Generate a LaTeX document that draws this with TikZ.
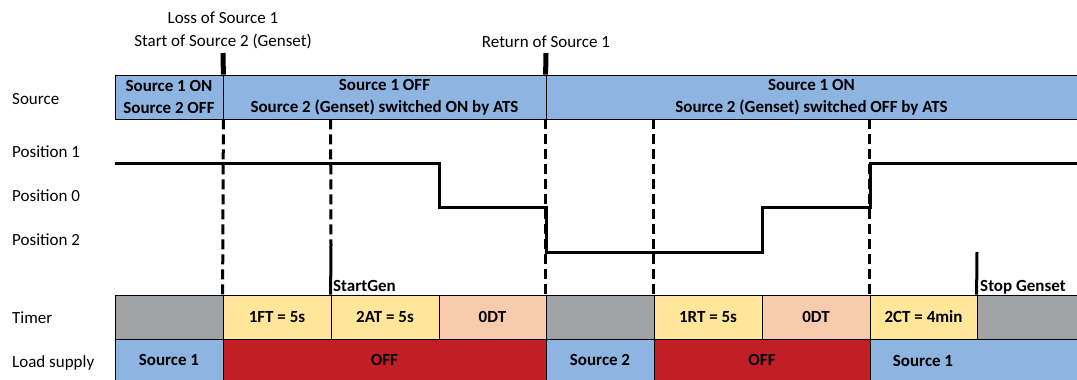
\documentclass[tikz,border=0pt]{standalone}
\usepackage{fontspec}
\setmainfont{Carlito}
\definecolor{srcblue}{RGB}{142,180,226}
\definecolor{cgray}{RGB}{160,162,163}
\definecolor{cyellow}{RGB}{255,230,153}
\definecolor{cpeach}{RGB}{248,203,173}
\definecolor{cred}{RGB}{193,30,38}
\tikzset{
  txt/.style={font=\fontsize{17}{23}\selectfont, inner sep=0pt},
  lbl/.style={txt, anchor=base west},
  cell/.style={draw=black, line width=0.8pt, inner sep=0pt, align=center,
    font=\fontsize{17}{22}\selectfont\bfseries},
  srccell/.style={cell, fill=srcblue, minimum height=44pt},
  tcell/.style={cell, minimum height=44pt},
  lcell/.style={cell, minimum height=41pt},
  btxt/.style={txt, font=\fontsize{17}{22}\selectfont\bfseries},
  dashline/.style={line width=3pt, dash pattern=on 10pt off 5pt},
  solidline/.style={line width=3pt},
  marker/.style={line width=5pt},
  posline/.style={line width=3pt, line join=miter},
}
\begin{document}
\begin{tikzpicture}[x=1pt,y=-1pt]
\useasboundingbox (0,0) rectangle (1077,380);
% left labels
\node[lbl] (lsrc) at (12,104.7) {Source};
\node[lbl] (lp1) at (12,157) {Position 1};
\node[lbl] (lp0) at (12,201) {Position 0};
\node[lbl] (lp2) at (12,245) {Position 2};
\node[lbl] (ltim) at (12,323.5) {Timer};
\node[lbl] (lload) at (12,367) {Load supply};
% top annotations
\node[txt, align=center] (loss) at (223,30.5) {Loss of Source 1\\Start of Source 2 (Genset)};
\node[txt] (ret) at (546,42) {Return of Source 1};
% source row
\node[srccell, minimum width=108pt] (s1) at (169,97) {Source 1 ON\\Source 2 OFF};
\node[srccell, minimum width=323pt] (s2) at (384.5,97) {Source 1 OFF\\Source 2 (Genset) switched ON by ATS};
\node[srccell, minimum width=531pt] (s3) at (811.5,97) {Source 1 ON\\Source 2 (Genset) switched OFF by ATS};
% timer row
\node[tcell, fill=cgray, minimum width=108pt] (t0) at (169,317) {};
\node[tcell, fill=cyellow, minimum width=108pt] (t1) at (277,317) {1FT = 5s};
\node[tcell, fill=cyellow, minimum width=108pt] (t2) at (385,317) {2AT = 5s};
\node[tcell, fill=cpeach, minimum width=107pt] (t3) at (492.5,317) {0DT};
\node[tcell, fill=cgray, minimum width=108pt] (t4) at (600,317) {};
\node[tcell, fill=cyellow, minimum width=108pt] (t5) at (708,317) {1RT = 5s};
\node[tcell, fill=cpeach, minimum width=108pt] (t6) at (816,317) {0DT};
\node[tcell, fill=cyellow, minimum width=107pt] (t7) at (923.5,317) {2CT = 4min};
\node[tcell, fill=cgray, minimum width=100pt] (t8) at (1027,317) {};
% load supply row
\node[lcell, fill=srcblue, minimum width=108pt] (l0) at (169,359.5) {Source 1};
\node[lcell, fill=cred, minimum width=323pt] (l1) at (384.5,359.5) {OFF};
\node[lcell, fill=srcblue, minimum width=108pt] (l2) at (600,359.5) {Source 2};
\node[lcell, fill=cred, minimum width=216pt] (l3) at (762,359.5) {OFF};
\node[lcell, fill=srcblue, minimum width=207pt] (l4) at (973.5,359.5) {};
\node[btxt] (l4t) at (923,361) {Source 1};
% markers above source row
\coordinate (m1) at (223,53);
\coordinate (m2) at (546,53);
\draw[marker] (m1) -- (s1.north east);
\draw[marker] (m2) -- (s3.north west);
% dashed lines
\draw[dashline] (s1.south east) -- (t1.north west);
\coordinate (sg) at (331,245);
\draw[dashline] (s2.south -| t2.north west) -- (sg);
\draw[solidline] (sg) -- (t2.north west);
\draw[dashline] (s3.south west) -- (t4.north west);
\draw[dashline] (s3.south -| t5.north west) -- (t5.north west);
\draw[dashline] (s3.south -| t7.north west) -- (t7.north west);
% stop genset
\coordinate (stp) at (977,252);
\draw[solidline] (stp) -- (t8.north west);
\node[btxt, anchor=base west] (stoplbl) at (980,291) {Stop Genset};
\node[btxt, anchor=base west] (startlbl) at (333,291) {StartGen};
% position line
\coordinate (p0) at (115,163);
\coordinate (p1) at (439,163);
\coordinate (p2) at (439,207);
\coordinate (p3) at (546,207);
\coordinate (p4) at (546,252);
\coordinate (p5) at (762,252);
\coordinate (p6) at (762,207);
\coordinate (p7) at (870,207);
\coordinate (p8) at (870,163);
\coordinate (p9) at (1077,163);
\draw[posline] (p0) -- (p1) -- (p2) -- (p3) -- (p4) -- (p5) -- (p6) -- (p7) -- (p8) -- (p9);
\end{tikzpicture}
\end{document}
